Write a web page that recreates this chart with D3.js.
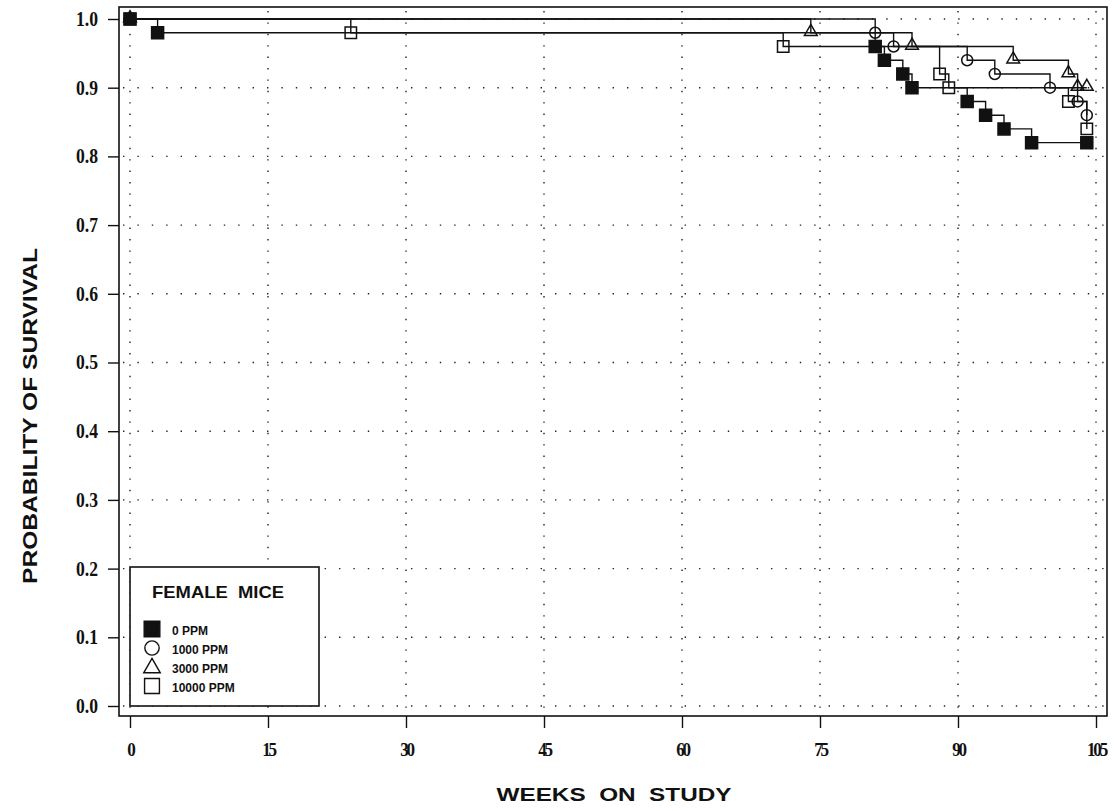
<!DOCTYPE html>
<html>
<head>
<meta charset="utf-8">
<script src="https://cdn.jsdelivr.net/npm/d3@7"></script>
<style>
  body { margin: 0; background: #fff; }
  svg { display: block; }
</style>
</head>
<body>
<div id="chart"></div>
<script>
// tick labels
var weekTicks = [0, 15, 30, 45, 60, 75, 90, 105];
var probTicks = [0.0, 0.1, 0.2, 0.3, 0.4, 0.5, 0.6, 0.7, 0.8, 0.9, 1.0];

// groups (dose levels)
var groups = ["0 PPM", "1000 PPM", "3000 PPM", "10000 PPM"];

// Kaplan-Meier points: week and survival after each step
var ppm0Weeks = [0, 3, 81, 82, 84, 85, 91, 93, 95, 98, 104];
var ppm0Surv  = [1.00, 0.98, 0.96, 0.94, 0.92, 0.90, 0.88, 0.86, 0.84, 0.82, 0.82];

var ppm1000Weeks = [0, 81, 83, 91, 94, 100, 103, 104];
var ppm1000Surv  = [1.00, 0.98, 0.96, 0.94, 0.92, 0.90, 0.88, 0.86];

var ppm3000Weeks = [0, 74, 85, 96, 102, 103, 104];
var ppm3000Surv  = [1.00, 0.98, 0.96, 0.94, 0.92, 0.90, 0.90];

var ppm10000Weeks = [0, 24, 71, 88, 89, 102, 104];
var ppm10000Surv  = [1.00, 0.98, 0.96, 0.92, 0.90, 0.88, 0.84];

var W = 1114, H = 811;
var frame = { left: 119, top: 7, right: 1107, bottom: 716 };

var svg = d3.select("#chart").append("svg")
  .attr("width", W)
  .attr("height", H);

var x = d3.scaleLinear().domain([0, 105]).range([130, 1096]);
var y = d3.scaleLinear().domain([0, 1]).range([706, 19]);

// dotted grid
var grid = svg.append("g").attr("stroke", "#222").attr("stroke-width", 1.4);
grid.selectAll("line.v")
  .data(weekTicks)
  .enter().append("line")
  .attr("class", "v")
  .attr("x1", function(d) { return x(d); })
  .attr("x2", function(d) { return x(d); })
  .attr("y1", frame.top + 4)
  .attr("y2", frame.bottom)
  .attr("stroke-dasharray", "1.4,10");
grid.selectAll("line.h")
  .data(probTicks)
  .enter().append("line")
  .attr("class", "h")
  .attr("x1", frame.left + 4)
  .attr("x2", frame.right)
  .attr("y1", function(d) { return y(d); })
  .attr("y2", function(d) { return y(d); })
  .attr("stroke-dasharray", "1.4,13");

// frame
svg.append("rect")
  .attr("x", frame.left)
  .attr("y", frame.top)
  .attr("width", frame.right - frame.left)
  .attr("height", frame.bottom - frame.top)
  .attr("fill", "none")
  .attr("stroke", "#111")
  .attr("stroke-width", 1.6);

// axes
var sx = 0.88;
var yAxis = svg.append("g")
  .attr("transform", "translate(" + frame.left + ",0)")
  .call(d3.axisLeft(y).tickValues(probTicks).tickSize(11).tickPadding(11)
    .tickFormat(d3.format(".1f")));
var xAxis = svg.append("g")
  .attr("transform", "translate(0," + frame.bottom + ")")
  .call(d3.axisBottom(x).tickValues(weekTicks).tickSize(12).tickPadding(15)
    .tickFormat(d3.format("d")));

[yAxis, xAxis].forEach(function(a) {
  a.select(".domain").remove();
  a.selectAll(".tick line").attr("stroke", "#111").attr("stroke-width", 1.4);
  a.selectAll(".tick text")
    .attr("fill", "#111")
    .style("font-family", "'Liberation Serif', 'Times New Roman', serif")
    .style("font-weight", "bold");
});
yAxis.selectAll(".tick text")
  .style("font-size", "20px")
  .attr("x", -21 / sx)
  .attr("transform", "scale(" + sx + ",1)");
xAxis.selectAll(".tick text")
  .style("font-size", "19px")
  .style("letter-spacing", "-2.5px")
  .attr("transform", "scale(0.9,1)");

// axis titles
svg.append("text")
  .attr("transform", "translate(37,416) rotate(-90)")
  .attr("text-anchor", "middle")
  .attr("textLength", 336)
  .attr("lengthAdjust", "spacingAndGlyphs")
  .style("font-family", "'Liberation Sans', Arial, sans-serif")
  .style("font-weight", "bold")
  .style("font-size", "20px")
  .attr("fill", "#111")
  .text("PROBABILITY OF SURVIVAL");

svg.append("text")
  .attr("x", 614)
  .attr("y", 801)
  .attr("text-anchor", "middle")
  .attr("textLength", 235)
  .attr("lengthAdjust", "spacingAndGlyphs")
  .style("font-family", "'Liberation Sans', Arial, sans-serif")
  .style("font-weight", "bold")
  .style("font-size", "19px")
  .style("white-space", "pre")
  .attr("fill", "#111")
  .text("WEEKS  ON  STUDY");

// series
var series = [
  { name: groups[0], weeks: ppm0Weeks, surv: ppm0Surv, shape: d3.symbolSquare, size: 144, filled: true },
  { name: groups[1], weeks: ppm1000Weeks, surv: ppm1000Surv, shape: d3.symbolCircle, size: 95, filled: false },
  { name: groups[2], weeks: ppm3000Weeks, surv: ppm3000Surv, shape: d3.symbolTriangle, size: 70, filled: false },
  { name: groups[3], weeks: ppm10000Weeks, surv: ppm10000Surv, shape: d3.symbolSquare, size: 130, filled: false }
];
series.forEach(function(s) {
  s.points = s.weeks.map(function(w, i) { return [w, s.surv[i]]; });
});

var line = d3.line()
  .x(function(d) { return x(d[0]); })
  .y(function(d) { return y(d[1]); })
  .curve(d3.curveStepAfter);

svg.append("g").selectAll("path")
  .data(series)
  .enter().append("path")
  .attr("d", function(s) { return line(s.points); })
  .attr("fill", "none")
  .attr("stroke", "#111")
  .attr("stroke-width", 1.4);

// markers, control group drawn last
var drawOrder = [series[1], series[2], series[3], series[0]];
drawOrder.forEach(function(s) {
  svg.append("g").selectAll("path")
    .data(s.points)
    .enter().append("path")
    .attr("transform", function(d) {
      var dy = s.shape === d3.symbolTriangle ? -1 : 0;
      return "translate(" + x(d[0]) + "," + (y(d[1]) + dy) + ")";
    })
    .attr("d", d3.symbol().type(s.shape).size(s.size))
    .attr("fill", s.filled ? "#111" : "none")
    .attr("stroke", "#111")
    .attr("stroke-width", 1.5);
});

// legend
var lg = svg.append("g");
lg.append("rect")
  .attr("x", 130).attr("y", 567)
  .attr("width", 189).attr("height", 139)
  .attr("fill", "#fff")
  .attr("stroke", "#111")
  .attr("stroke-width", 1.6);
lg.append("text")
  .attr("x", 152).attr("y", 598)
  .attr("textLength", 132)
  .attr("lengthAdjust", "spacingAndGlyphs")
  .style("font-family", "'Liberation Sans', Arial, sans-serif")
  .style("font-weight", "bold")
  .style("font-size", "17px")
  .style("white-space", "pre")
  .attr("fill", "#111")
  .text("FEMALE  MICE");

var rowY = d3.scaleLinear().domain([0, 3]).range([629, 686]);
var items = lg.selectAll("g.item")
  .data(series)
  .enter().append("g")
  .attr("class", "item");
items.append("path")
  .attr("transform", function(s, i) {
    var dy = s.shape === d3.symbolTriangle ? 1 : 0;
    return "translate(152," + (rowY(i) + dy) + ")";
  })
  .attr("d", function(s) { return d3.symbol().type(s.shape).size(s.size * 1.7)(); })
  .attr("fill", function(s) { return s.filled ? "#111" : "none"; })
  .attr("stroke", "#111")
  .attr("stroke-width", 1.4);
items.append("text")
  .attr("x", 172)
  .attr("y", function(s, i) { return rowY(i) + 6; })
  .style("font-family", "'Liberation Sans', Arial, sans-serif")
  .style("font-weight", "bold")
  .style("font-size", "12px")
  .attr("fill", "#111")
  .text(function(s) { return s.name; });
</script>
</body>
</html>
